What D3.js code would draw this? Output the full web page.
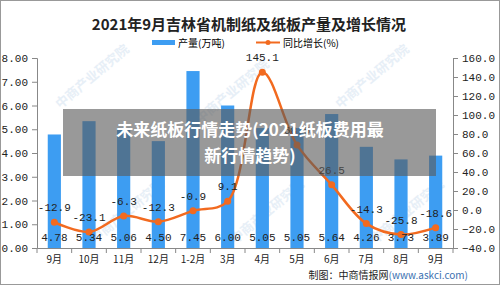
<!DOCTYPE html>
<html>
<head>
<meta charset="utf-8">
<script src="https://cdn.jsdelivr.net/npm/d3@7"></script>
<style>
  body { margin: 0; background: #fff; }
  svg { display: block; }
  .tick text { font-family: 'Liberation Mono', 'Noto Sans CJK SC', monospace; font-size: 11px; fill: #222; }
  .domain, .tick line { stroke: #888; }
</style>
</head>
<body>
<script>
// chart values
const months = ['9月', '10月', '11月', '12月', '1-2月', '3月', '4月', '5月', '6月', '7月', '8月', '9月']
const output = [4.78, 5.34, 5.06, 4.50, 7.45, 6.00, 5.05, 5.05, 5.64, 4.26, 3.73, 3.89]
const growth = [-12.9, -23.1, -6.3, -12.3, -0.9, 9.1, 145.1, 68.5, 26.5, -14.3, -25.8, -18.6]
const leftTicks = [0, 1, 2, 3, 4, 5, 6, 7, 8]
const rightTicks = [-40, -20, 0, 20, 40, 60, 80, 100, 120, 140, 160]

const width = 500,
  height = 285,
  margin = { top: 58, bottom: 37, right: 47, left: 37 }
const barColor = '#3d9df2',
  lineColor = '#f26a1f'

const svg = d3.select('body').append('svg').attr('width', width).attr('height', height)

svg.append('rect').attr('x', 0.5).attr('y', 0.5).attr('width', width - 1).attr('height', height - 1)
  .attr('fill', '#fff').attr('stroke', '#999')

// faint watermarks
const wm = [[95, 80], [235, 95], [375, 80], [130, 215], [270, 215], [410, 215]]
svg.selectAll('text.wm').data(wm).enter().append('text')
  .attr('transform', (d) => `translate(${d[0]},${d[1]}) rotate(-40)`)
  .attr('text-anchor', 'middle')
  .style('font-family', 'Noto Sans CJK SC').style('font-size', '13px').style('font-weight', 700)
  .attr('fill', '#dde9f4').attr('opacity', 0.7)
  .text('中商产业研究院')

const x = d3.scaleBand().domain(d3.range(months.length)).range([margin.left, width - margin.right])
const yL = d3.scaleLinear().domain([0, 8]).range([height - margin.bottom, margin.top])
const yR = d3.scaleLinear().domain([-40, 160]).range([height - margin.bottom, margin.top])

// bars
svg.selectAll('rect.bar').data(output).enter().append('rect')
  .attr('x', (d, i) => x(i) + x.bandwidth() * 0.31)
  .attr('width', x.bandwidth() * 0.38)
  .attr('y', (d) => yL(d))
  .attr('height', (d) => yL(0) - yL(d))
  .attr('fill', barColor)

// axes
svg.append('g').attr('transform', `translate(${margin.left},0)`)
  .call(d3.axisLeft(yL).tickValues(leftTicks).tickSize(5).tickPadding(4).tickFormat(d3.format('.2f')))
svg.append('g').attr('transform', `translate(${width - margin.right},0)`)
  .call(d3.axisRight(yR).tickValues(rightTicks).tickSize(5).tickPadding(4).tickFormat(d3.format('.1f')))
const xAx = svg.append('g').attr('transform', `translate(0,${height - margin.bottom})`)
  .call(d3.axisBottom(x).tickSize(0).tickPadding(8).tickFormat((i) => months[i]))
xAx.selectAll('text').style('font-family', 'Noto Sans CJK SC').style('font-size', '10px')
xAx.selectAll('line.sep').data(d3.range(months.length + 1)).enter().append('line')
  .attr('x1', (i) => margin.left + i * x.step()).attr('x2', (i) => margin.left + i * x.step())
  .attr('y1', 0).attr('y2', 5).attr('stroke', '#888')

// line
const line = d3.line().x((d, i) => x(i) + x.bandwidth() / 2).y((d) => yR(d)).curve(d3.curveCatmullRom.alpha(0.5))
svg.append('path').datum(growth).attr('d', line).attr('fill', 'none').attr('stroke', lineColor).attr('stroke-width', 2.5)
svg.selectAll('circle.pt').data(growth).enter().append('circle')
  .attr('cx', (d, i) => x(i) + x.bandwidth() / 2).attr('cy', (d) => yR(d)).attr('r', 3.5).attr('fill', lineColor)

// value labels
const lblFont = 'Liberation Mono, monospace'
svg.selectAll('text.bv').data(output).enter().append('text')
  .attr('x', (d, i) => x(i) + x.bandwidth() / 2).attr('y', height - margin.bottom - 7)
  .attr('text-anchor', 'middle').style('font-family', lblFont).style('font-size', '11px')
  .attr('fill', '#222').text((d) => d.toFixed(2))
svg.selectAll('text.gv').data(growth).enter().append('text')
  .attr('x', (d, i) => x(i) + x.bandwidth() / 2).attr('y', (d) => yR(d) - 11)
  .attr('text-anchor', 'middle').style('font-family', lblFont).style('font-size', '11px')
  .attr('fill', '#222').text((d) => d.toFixed(1))

// title + legend
svg.append('text').attr('x', 249).attr('y', 30).attr('text-anchor', 'middle')
  .style('font-family', 'Noto Sans CJK SC').style('font-size', '15px').style('font-weight', 700)
  .attr('fill', '#222').text('2021年9月吉林省机制纸及纸板产量及增长情况')
svg.append('rect').attr('x', 152).attr('y', 40).attr('width', 23).attr('height', 5).attr('fill', barColor)
svg.append('text').attr('x', 178).attr('y', 47).style('font-family', 'Noto Sans CJK SC').style('font-size', '10px').text('产量(万吨)')
svg.append('line').attr('x1', 256).attr('x2', 280).attr('y1', 42.5).attr('y2', 42.5).attr('stroke', lineColor).attr('stroke-width', 2)
svg.append('circle').attr('cx', 268).attr('cy', 42.5).attr('r', 2.5).attr('fill', lineColor)
svg.append('text').attr('x', 283).attr('y', 47).style('font-family', 'Noto Sans CJK SC').style('font-size', '10px').text('同比增长(%)')

// source
const src = svg.append('text').attr('x', 468).attr('y', 279).attr('text-anchor', 'end')
  .style('font-family', 'Noto Sans CJK SC').style('font-size', '10px')
src.append('tspan').attr('fill', '#222').text('制图：中商情报网')
src.append('tspan').attr('fill', '#3a6fb0').text('(www.askci.com)')

// overlay banner
svg.append('rect').attr('x', 63).attr('y', 109).attr('width', 373).attr('height', 67).attr('fill', 'rgba(90,90,90,0.62)')
svg.selectAll('text.ban').data(['未来纸板行情走势(2021纸板费用最', '新行情趋势)']).enter().append('text')
  .attr('x', 250).attr('y', (d, i) => 136 + i * 26).attr('text-anchor', 'middle')
  .style('font-family', 'Noto Sans CJK SC').style('font-size', '17px').style('font-weight', 700)
  .attr('fill', '#fff').text((d) => d)
</script>
</body>
</html>
